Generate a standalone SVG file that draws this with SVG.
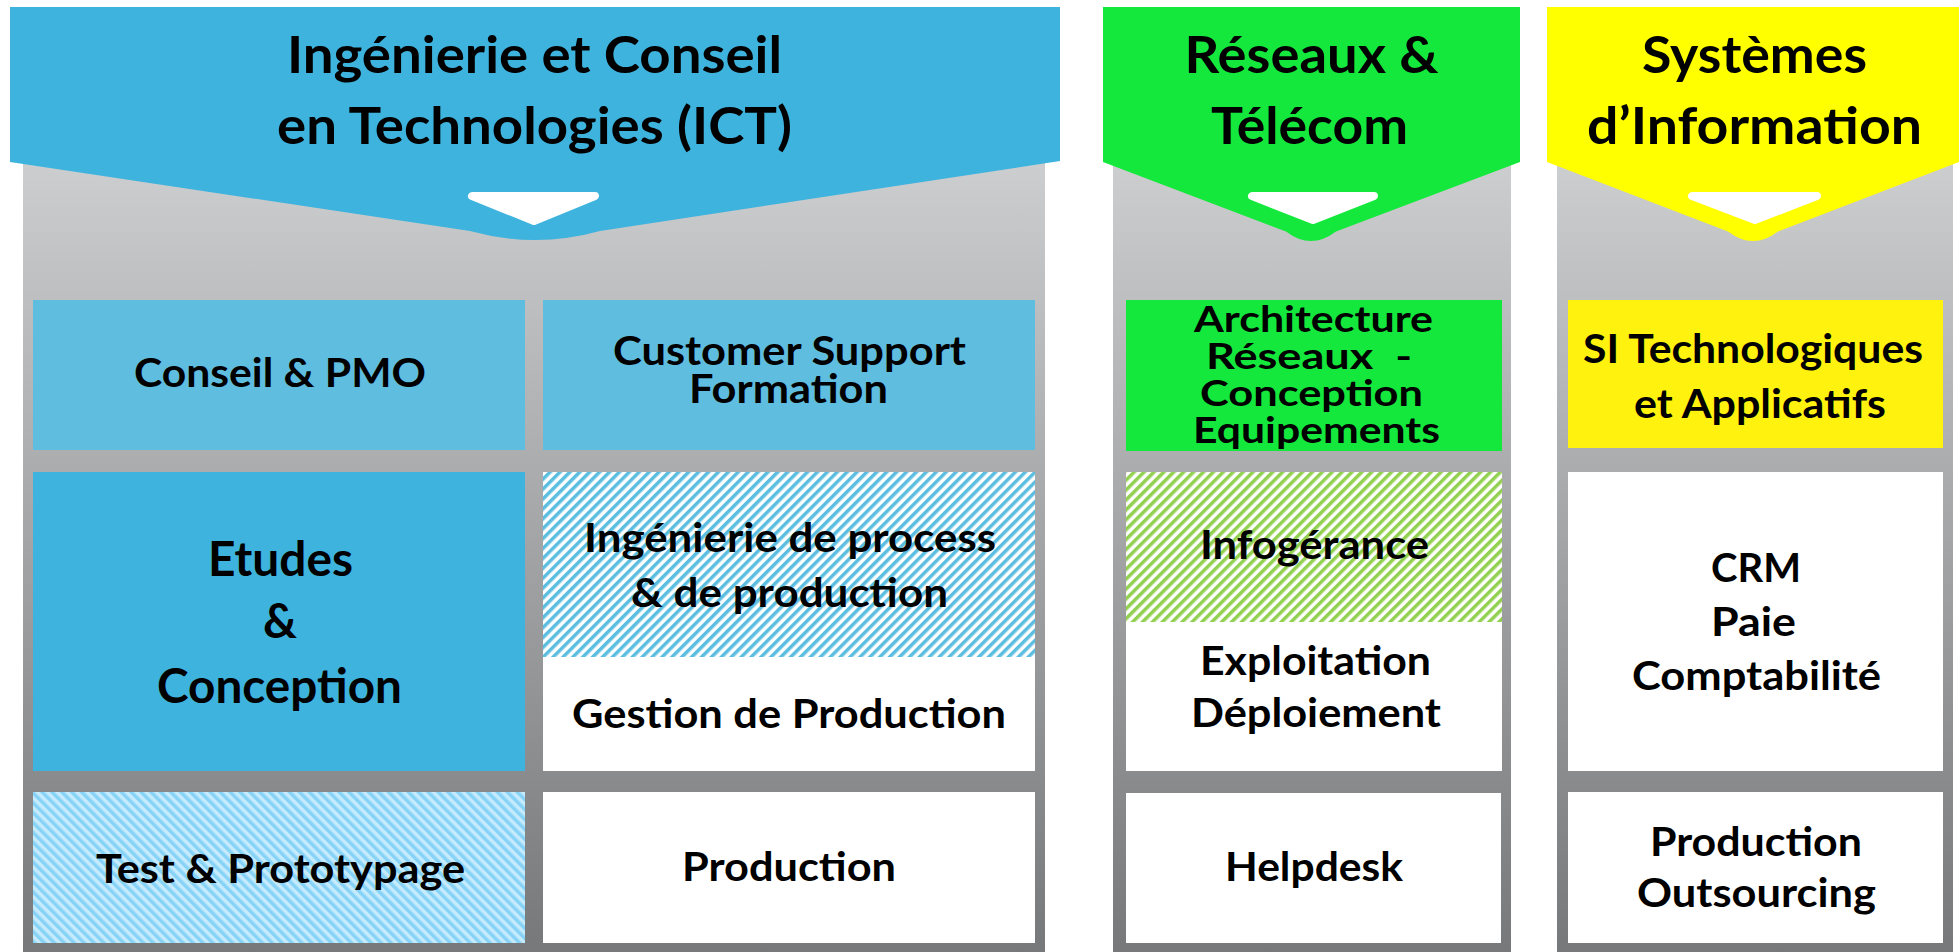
<svg xmlns="http://www.w3.org/2000/svg" width="1959" height="952" viewBox="0 0 1959 952">
<defs>
<style>
text{font-family:Lato,"Noto Sans","Liberation Sans",sans-serif;font-weight:bold;fill:#000;text-anchor:middle}
.h{font-size:52px}
.t{font-size:40px}
.b{font-size:47px}
.a{font-size:37px}
.w{fill:#fff}
.tri{fill:#fff;stroke:#fff;stroke-width:8;stroke-linejoin:round}
</style>
<linearGradient id="gray" x1="0" y1="0" x2="0" y2="1">
<stop offset="0" stop-color="#d0d1d3"/>
<stop offset="1" stop-color="#76787a"/>
</linearGradient>
<pattern id="hb" width="7" height="7" patternUnits="userSpaceOnUse" patternTransform="rotate(45)">
<rect width="7" height="7" fill="#fff"/>
<rect width="3.5" height="7" fill="#5bbde0"/>
</pattern>
<pattern id="hg" width="7" height="7" patternUnits="userSpaceOnUse" patternTransform="rotate(45)">
<rect width="7" height="7" fill="#fff"/>
<rect width="3.5" height="7" fill="#92d050"/>
</pattern>
<pattern id="hl" width="7" height="7" patternUnits="userSpaceOnUse" patternTransform="rotate(-45)">
<rect width="7" height="7" fill="#c6ebfd"/>
<rect width="3.5" height="7" fill="#86d3f7"/>
</pattern>
</defs>
<rect width="1959" height="952" fill="#fff"/>

<g id="col-ict">
<rect x="23" y="130" width="1022" height="822" fill="url(#gray)"/>
<path d="M10,7 H1060 V161 L600,231 Q535,249 470,231 L10,162 Z" fill="#3db3de"/>
<polygon class="tri" points="472,196 595,196 534,221"/>
<text class="h" x="534.5" y="73" textLength="495" lengthAdjust="spacingAndGlyphs">Ingénierie et Conseil</text>
<text class="h" x="534.5" y="144" textLength="515" lengthAdjust="spacingAndGlyphs">en Technologies (ICT)</text>
</g>

<g id="col-rt">
<rect x="1113" y="130" width="398" height="822" fill="url(#gray)"/>
<path d="M1103,7 H1520 V162 L1336,231.5 Q1311,250.5 1286,231.5 L1103,162 Z" fill="#14e83c"/>
<polygon class="tri" points="1252,196 1374,196 1313,220"/>
<text class="h" x="1311.5" y="73" textLength="254" lengthAdjust="spacingAndGlyphs">Réseaux &amp;</text>
<text class="h" x="1309.5" y="144" textLength="197" lengthAdjust="spacingAndGlyphs">Télécom</text>
</g>

<g id="col-si">
<rect x="1557" y="130" width="396" height="822" fill="url(#gray)"/>
<path d="M1547,7 H1959 V162 L1778,231.4 Q1753,250.5 1728,231.4 L1547,162 Z" fill="#ffff00"/>
<polygon class="tri" points="1692,196 1817,196 1755,220"/>
<text class="h" x="1754.5" y="73" textLength="225" lengthAdjust="spacingAndGlyphs">Systèmes</text>
<text class="h" x="1754.5" y="144" textLength="335" lengthAdjust="spacingAndGlyphs">d’Information</text>
</g>

<g id="conseil-pmo">
<rect x="33" y="300" width="492" height="150" fill="#5fbde0"/>
<text class="t" x="280" y="387" textLength="292" lengthAdjust="spacingAndGlyphs">Conseil &amp; PMO</text>
</g>

<g id="customer-support">
<rect x="543" y="300" width="492" height="150" fill="#5fbde0"/>
<text class="t" x="789.5" y="365" textLength="353" lengthAdjust="spacingAndGlyphs">Customer Support</text>
<text class="t" x="788.5" y="403" textLength="199" lengthAdjust="spacingAndGlyphs">Formation</text>
</g>

<g id="architecture">
<rect x="1126" y="300" width="376" height="151" fill="#14e83c"/>
<text class="a" x="1313.5" y="332" textLength="239" lengthAdjust="spacingAndGlyphs">Architecture</text>
<text class="a" x="1309" y="369" textLength="206" lengthAdjust="spacingAndGlyphs" xml:space="preserve">Réseaux  -</text>
<text class="a" x="1311.5" y="406" textLength="223" lengthAdjust="spacingAndGlyphs">Conception</text>
<text class="a" x="1316.5" y="443" textLength="247" lengthAdjust="spacingAndGlyphs">Equipements</text>
</g>

<g id="si-techno">
<rect x="1568" y="300" width="375" height="148" fill="#fff20f"/>
<text class="t" x="1753" y="363" textLength="340" lengthAdjust="spacingAndGlyphs">SI Technologiques</text>
<text class="t" x="1760" y="418" textLength="252" lengthAdjust="spacingAndGlyphs">et Applicatifs</text>
</g>

<g id="etudes">
<rect x="33" y="472" width="492" height="299" fill="#3db3de"/>
<text class="b" x="280.5" y="576" textLength="145" lengthAdjust="spacingAndGlyphs">Etudes</text>
<text class="b" x="280" y="638">&amp;</text>
<text class="b" x="279.5" y="703" textLength="245" lengthAdjust="spacingAndGlyphs">Conception</text>
</g>

<g id="ingenierie-process">
<rect x="543" y="472" width="492" height="185" fill="url(#hb)"/>
<text class="t" x="790" y="552" textLength="412" lengthAdjust="spacingAndGlyphs">Ingénierie de process</text>
<text class="t" x="789.5" y="607" textLength="317" lengthAdjust="spacingAndGlyphs">&amp; de production</text>
</g>

<g id="gestion-production">
<rect x="543" y="657" width="492" height="114" class="w"/>
<text class="t" x="789" y="728" textLength="434" lengthAdjust="spacingAndGlyphs">Gestion de Production</text>
</g>

<g id="infogerance">
<rect x="1126" y="472" width="376" height="150" fill="url(#hg)"/>
<text class="t" x="1314.5" y="559" textLength="229" lengthAdjust="spacingAndGlyphs">Infogérance</text>
</g>

<g id="exploitation">
<rect x="1126" y="622" width="376" height="149" class="w"/>
<text class="t" x="1315.5" y="675" textLength="231" lengthAdjust="spacingAndGlyphs">Exploitation</text>
<text class="t" x="1316" y="727" textLength="250" lengthAdjust="spacingAndGlyphs">Déploiement</text>
</g>

<g id="crm">
<rect x="1568" y="472" width="375" height="299" class="w"/>
<text class="t" x="1756" y="582" textLength="90" lengthAdjust="spacingAndGlyphs">CRM</text>
<text class="t" x="1753.5" y="636" textLength="85" lengthAdjust="spacingAndGlyphs">Paie</text>
<text class="t" x="1756.5" y="690" textLength="249" lengthAdjust="spacingAndGlyphs">Comptabilité</text>
</g>

<g id="test-prototypage">
<rect x="33" y="792" width="492" height="151" fill="url(#hl)"/>
<text class="t" x="280.5" y="883" textLength="369" lengthAdjust="spacingAndGlyphs">Test &amp; Prototypage</text>
</g>

<g id="production">
<rect x="543" y="792" width="492" height="151" class="w"/>
<text class="t" x="789" y="881" textLength="214" lengthAdjust="spacingAndGlyphs">Production</text>
</g>

<g id="helpdesk">
<rect x="1126" y="793" width="375" height="150" class="w"/>
<text class="t" x="1314" y="881" textLength="178" lengthAdjust="spacingAndGlyphs">Helpdesk</text>
</g>

<g id="production-outsourcing">
<rect x="1568" y="792" width="375" height="151" class="w"/>
<text class="t" x="1756" y="856" textLength="212" lengthAdjust="spacingAndGlyphs">Production</text>
<text class="t" x="1756.5" y="907" textLength="239" lengthAdjust="spacingAndGlyphs">Outsourcing</text>
</g>

<g id="connectors"></g>
</svg>
